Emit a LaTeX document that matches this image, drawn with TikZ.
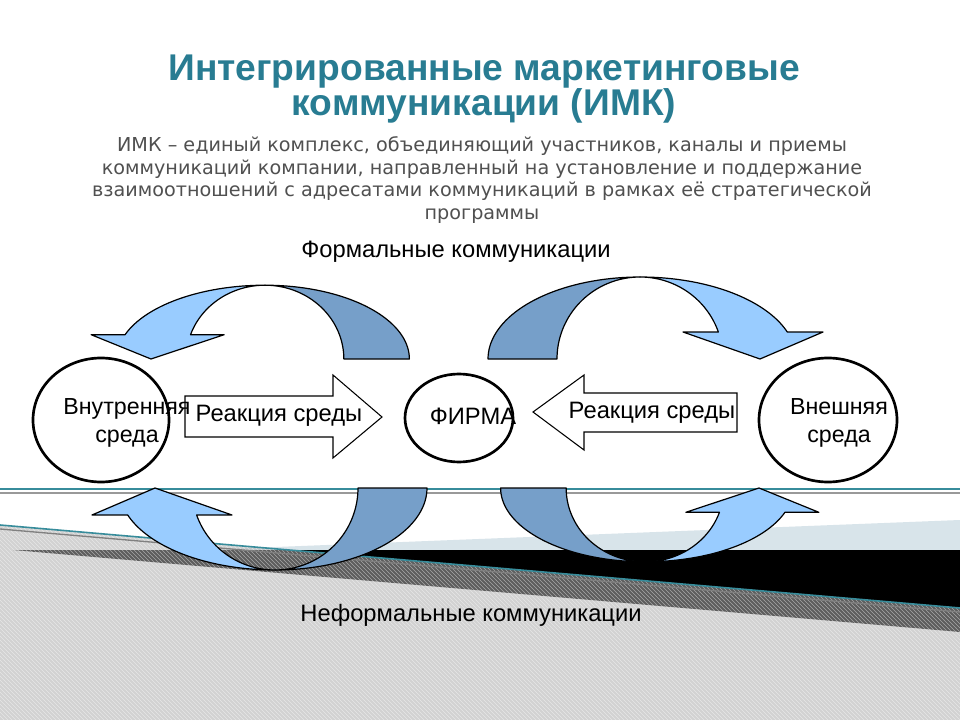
\documentclass[tikz,border=0pt]{standalone}
\usepackage{fontspec}
\setmainfont{Liberation Sans}
\newfontfamily\subfont{DejaVu Sans}
\usetikzlibrary{patterns}
\definecolor{titleteal}{RGB}{40,124,146}
\definecolor{subgray}{RGB}{80,80,80}
\definecolor{darkband}{RGB}{118,159,201}
\definecolor{lightband}{RGB}{153,204,255}
\definecolor{wedgecol}{RGB}{216,228,234}
\definecolor{tealline}{RGB}{55,140,155}
\definecolor{hatchbase}{RGB}{172,172,172}
\tikzset{
  band/.style={draw=black,line width=0.9pt,line join=round},
  blockarrow/.style={draw=black,fill=white,line width=0.8pt},
  ring/.style={draw=black,line width=2pt},
  lbl/.style={font=\fontsize{17.8}{20}\selectfont,align=center,inner sep=0pt},
}
\newcommand{\ribbonarrow}{%
  \path[band,fill=darkband] plot[domain=0:90,samples=40,variable=\t] ({152*cos(\t)},{82*sin(\t)})
     -- plot[domain=90:0,samples=40,variable=\t] ({83*cos(\t)},{82*sin(\t)}) -- cycle;
  \path[band,fill=lightband] plot[domain=90:160.78,samples=40,variable=\t] ({156*cos(\t)},{82*sin(\t)})
     -- (-183,27) -- (-120,0) -- (-43,27)
     -- plot[domain=160.78:90,samples=40,variable=\t] ({83*cos(\t)},{82*sin(\t)}) -- cycle;
}
\begin{document}
\begin{tikzpicture}[x=0.75pt,y=-0.75pt]
\useasboundingbox (0,0) rectangle (960,720);
\fill[white] (0,0) rectangle (960,720);
% background decoration
\fill[wedgecol] (200,550) -- (960,520) -- (960,550) -- cycle;
\fill[black] (13,550) -- (960,550) -- (960,632) -- cycle;
\fill[hatchbase,fill opacity=0.54] (0,525) -- (960,608) -- (960,720) -- (0,720) -- cycle;
\fill[pattern=north west lines,pattern color=white,opacity=0.45] (0,525) -- (960,608) -- (960,720) -- (0,720) -- cycle;
\draw[gray,line width=1pt] (0,529) -- (960,612);
\draw[tealline,line width=1.2pt] (0,525) -- (960,608);
\draw[tealline,line width=0.8pt] (0,489) -- (960,489);
\draw[gray!80,line width=0.8pt] (0,493) -- (960,493);
% curved ribbon arrows
\begin{scope}[shift={(265,359)},xscale=0.95,yscale=-0.9]\ribbonarrow\end{scope}
\begin{scope}[shift={(640,359)},xscale=-1,yscale=-1]\ribbonarrow\end{scope}
\begin{scope}[shift={(275,488)}]\ribbonarrow\end{scope}
\begin{scope}[shift={(645,488)},xscale=-0.95,yscale=0.9]\ribbonarrow\end{scope}
% ellipses
\draw[ring] (101,420) ellipse[x radius=68,y radius=62];
\draw[ring] (828,420) ellipse[x radius=69,y radius=62];
\draw[ring] (459,418) ellipse[x radius=54,y radius=44];
% block arrows
\draw[blockarrow] (185,396) -- (333,396) -- (333,375) -- (382,417) -- (333,458) -- (333,437) -- (185,437) -- cycle;
\draw[blockarrow] (737,393) -- (584,393) -- (584,375) -- (533,412) -- (584,450) -- (584,432) -- (737,432) -- cycle;
% texts
\node[font=\bfseries\fontsize{27.9}{26.8}\selectfont,text=titleteal,align=center] (title) at (484,89) {Интегрированные маркетинговые\\коммуникации (ИМК)};
\node[font=\subfont\fontsize{14.4}{16.8}\selectfont,text=subgray,align=center] (sub) at (482,180) {ИМК – единый комплекс, объединяющий участников, каналы и приемы\\коммуникаций компании, направленный на установление и поддержание\\взаимоотношений с адресатами коммуникаций в рамках её стратегической\\программы};
\node[lbl] (formal) at (456,252) {Формальные коммуникации};
\node[lbl] (informal) at (471,615) {Неформальные коммуникации};
\node[lbl] (react1) at (279,416) {Реакция среды};
\node[lbl] (react2) at (652,413) {Реакция среды};
\node[lbl] (firm) at (473,416) {ФИРМА};
\node[lbl,font=\fontsize{17.4}{20.5}\selectfont] (inner) at (127,423) {Внутренняя\\среда};
\node[lbl,font=\fontsize{17.4}{20.5}\selectfont] (outer) at (839,423) {Внешняя\\среда};
\end{tikzpicture}
\end{document}
